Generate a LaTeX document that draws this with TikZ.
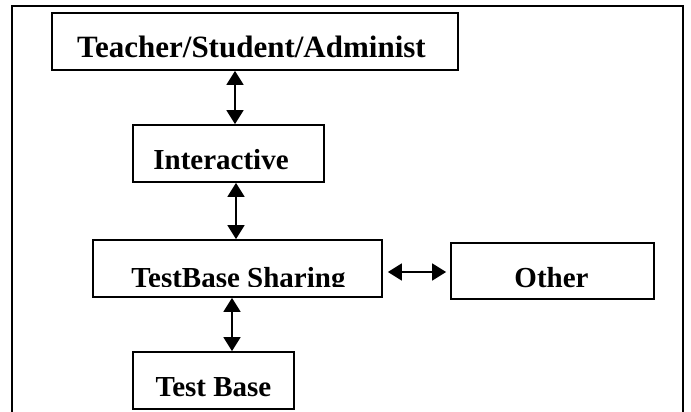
\documentclass[tikz,border=0pt]{standalone}
\usepackage{fontspec}
\setmainfont{Liberation Serif}
\usetikzlibrary{arrows.meta}
\begin{document}
\begin{tikzpicture}[x=1pt,y=-1pt,
  box/.style={draw,line width=1.8pt,inner sep=0pt,rectangle},
  lbl/.style={anchor=base,inner sep=0pt,font=\bfseries\fontsize{29}{29}\selectfont},
  biglbl/.style={anchor=base,inner sep=0pt,font=\bfseries\fontsize{31}{31}\selectfont},
  link/.style={line width=1.8pt,{Triangle[length=14pt,width=17pt]}-{Triangle[length=14pt,width=17pt]}}]
\useasboundingbox (0,0) rectangle (691,412);
\draw[line width=1.8pt] (12,414) -- (12,6) -- (683,6) -- (683,414);
% boxes
\node[box,minimum width=406pt,minimum height=57pt] (b1) at (255,41.5) {};
\node[box,minimum width=191pt,minimum height=57pt] (b2) at (228.5,153.5) {};
\node[box,minimum width=289pt,minimum height=57pt] (b3) at (237.5,268.5) {};
\node[box,minimum width=203pt,minimum height=56pt] (b4) at (552.5,271) {};
\node[box,minimum width=161pt,minimum height=57pt] (b5) at (213.5,380.5) {};
% labels
\node[biglbl] (t1) at (251.5,58) {Teacher/Student/Administ};
\node[lbl] (t2) at (221,169) {Interactive};
\begin{scope}
\clip (93,240) rectangle (382,286);
\node[lbl] (t3) at (238.5,287) {TestBase Sharing};
\end{scope}
\node[lbl] (t4) at (551.5,287) {Other};
\node[lbl] (t5) at (213.5,396) {Test Base};
% connectors
\coordinate (x1) at (235,0);
\coordinate (x2) at (236,0);
\coordinate (x3) at (232,0);
\coordinate (y4) at (0,272);
\draw[link] (b1.south -| x1) -- (b2.north -| x1);
\draw[link] (b2.south -| x2) -- (b3.north -| x2);
\draw[link] (b3.south -| x3) -- (b5.north -| x3);
\draw[link] ([xshift=5pt]b3.east |- y4) -- ([xshift=-4pt]b4.west |- y4);
\end{tikzpicture}
\end{document}
